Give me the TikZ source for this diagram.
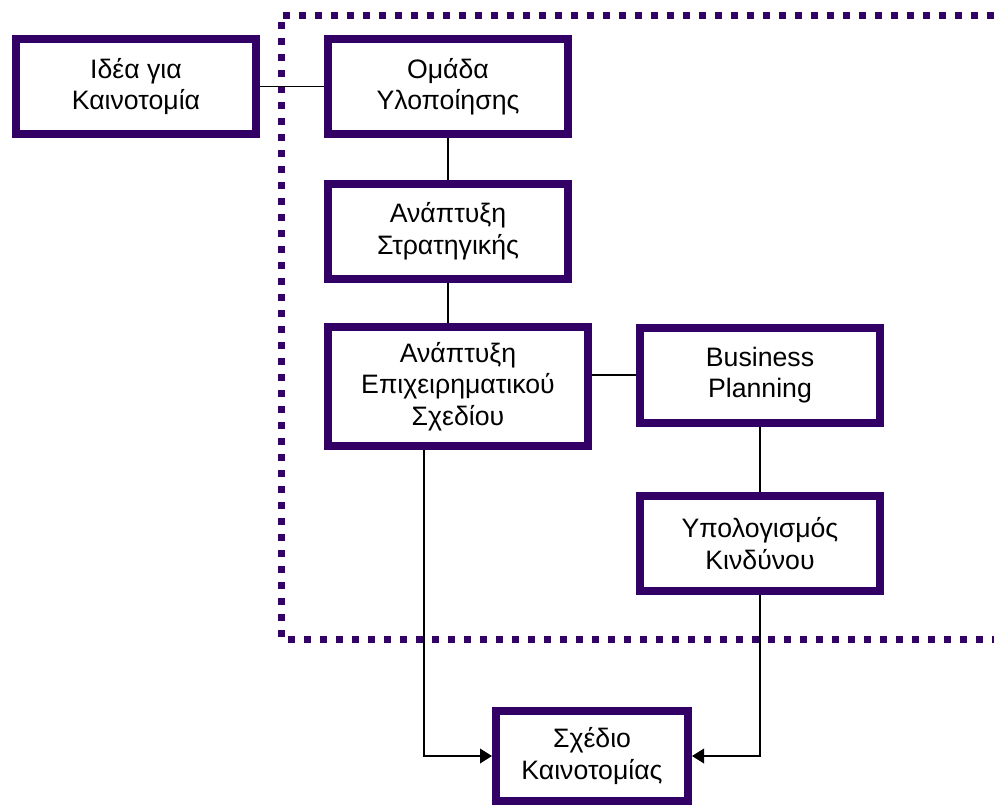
\documentclass[tikz,border=0pt]{standalone}
\usepackage{fontspec}
\setmainfont{Liberation Sans}
\usetikzlibrary{arrows.meta}
\definecolor{boxpurple}{HTML}{330066}
\begin{document}
\begin{tikzpicture}[x=0.75pt,y=-0.75pt,
    box/.style={draw=boxpurple,line width=6pt,fill=white,align=center,
      inner sep=0pt,minimum width=180pt,minimum height=71.25pt,
      font=\fontsize{20}{23.6}\selectfont},
    conn/.style={line width=1.1pt},
    arr/.style={conn,-{Triangle[length=9pt,width=11pt]}}]
  \useasboundingbox (0,0) rectangle (994,807);
  \draw[boxpurple,line width=5.25pt,dash pattern=on 5.25pt off 6.75pt]
    (1010,15) -- (281,15) -- (281,639) -- (1010,639);
  \draw
    (136,86.5) node[box] (idea){Ιδέα για\\Καινοτομία}
    (448,86.5) node[box] (omada){Ομάδα\\Υλοποίησης}
    (448,231) node[box] (strat){Ανάπτυξη\\Στρατηγικής}
    (458,386.5) node[box,minimum width=195pt,minimum height=89.25pt] (epix){Ανάπτυξη\\Επιχειρηματικού\\Σχεδίου}
    (760,375) node[box] (bp){Business\\Planning}
    (760,543.5) node[box] (ypol){Υπολογισμός\\Κινδύνου}
    (592,756) node[box,minimum width=144pt,minimum height=67.5pt] (sxedio){Σχέδιο\\Καινοτομίας};
  \begin{scope}[conn]
    \draw (idea) to (omada);
    \draw (omada) to (strat);
    \draw (strat.south) to (strat.south |- epix.north);
    \draw (bp.west) to (bp.west -| epix.east);
    \draw (bp) to (ypol);
  \end{scope}
  \draw[arr] ([xshift=-25.5pt]epix.south) |- (sxedio.west);
  \draw[arr] (ypol.south) |- (sxedio.east);
\end{tikzpicture}
\end{document}
